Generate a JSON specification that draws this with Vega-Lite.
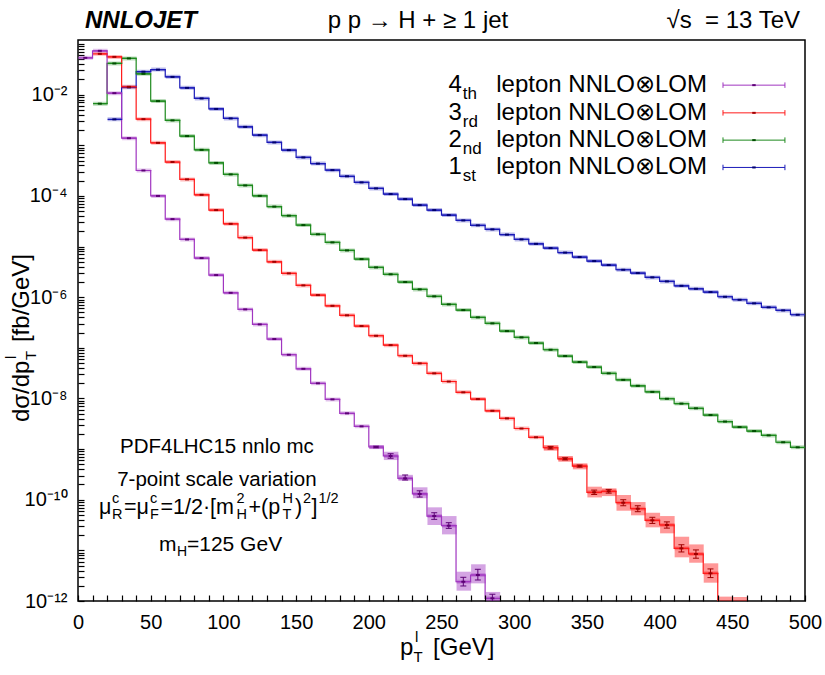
{
  "$schema": "https://vega.github.io/schema/vega-lite/v6.json",
  "width": 727,
  "height": 561,
  "autosize": "none",
  "padding": {"left": 78, "top": 40, "right": 20, "bottom": 74},
  "background": "white",
  "config": {
    "font": "Liberation Sans",
    "view": {"stroke": "black", "strokeWidth": 1.5},
    "axis": {"labelColor": "black", "titleColor": "black", "labelFont": "Liberation Sans", "titleFont": "Liberation Sans", "titleFontWeight": "normal", "domain": false, "grid": false}
  },
  "datasets": {
    "hist": [
      {"s":"1st","c":25,"v":3.25e-3},{"s":"1st","c":35,"v":0.01393},{"s":"1st","c":45,"v":0.0284},{"s":"1st","c":55,"v":0.0312},{"s":"1st","c":65,"v":0.02244},{"s":"1st","c":75,"v":0.01361},{"s":"1st","c":85,"v":8.41e-3},{"s":"1st","c":95,"v":5.22e-3},{"s":"1st","c":105,"v":3.39e-3},{"s":"1st","c":115,"v":2.31e-3},{"s":"1st","c":125,"v":1.585e-3},{"s":"1st","c":135,"v":1.138e-3},{"s":"1st","c":145,"v":8.01e-4},{"s":"1st","c":155,"v":5.75e-4},{"s":"1st","c":165,"v":4.35e-4},{"s":"1st","c":175,"v":3.23e-4},{"s":"1st","c":185,"v":2.44e-4},{"s":"1st","c":195,"v":1.849e-4},{"s":"1st","c":205,"v":1.406e-4},{"s":"1st","c":215,"v":1.087e-4},{"s":"1st","c":225,"v":8.65e-5},{"s":"1st","c":235,"v":6.58e-5},{"s":"1st","c":245,"v":5.25e-5},{"s":"1st","c":255,"v":4.18e-5},{"s":"1st","c":265,"v":3.28e-5},{"s":"1st","c":275,"v":2.62e-5},{"s":"1st","c":285,"v":2.18e-5},{"s":"1st","c":295,"v":1.722e-5},{"s":"1st","c":305,"v":1.384e-5},{"s":"1st","c":315,"v":1.132e-5},{"s":"1st","c":325,"v":9.31e-6},{"s":"1st","c":335,"v":7.60e-6},{"s":"1st","c":345,"v":6.19e-6},{"s":"1st","c":355,"v":5.16e-6},{"s":"1st","c":365,"v":4.31e-6},{"s":"1st","c":375,"v":3.48e-6},{"s":"1st","c":385,"v":2.99e-6},{"s":"1st","c":395,"v":2.46e-6},{"s":"1st","c":405,"v":2.05e-6},{"s":"1st","c":415,"v":1.679e-6},{"s":"1st","c":425,"v":1.466e-6},{"s":"1st","c":435,"v":1.262e-6},{"s":"1st","c":445,"v":1.019e-6},{"s":"1st","c":455,"v":8.89e-7},{"s":"1st","c":465,"v":7.55e-7},{"s":"1st","c":475,"v":6.30e-7},{"s":"1st","c":485,"v":5.48e-7},{"s":"1st","c":495,"v":4.50e-7},
      {"s":"2nd","c":15,"v":6.64e-3},{"s":"2nd","c":25,"v":0.0413},{"s":"2nd","c":35,"v":0.0519},{"s":"2nd","c":45,"v":0.0258},{"s":"2nd","c":55,"v":7.45e-3},{"s":"2nd","c":65,"v":3.10e-3},{"s":"2nd","c":75,"v":1.518e-3},{"s":"2nd","c":85,"v":8.13e-4},{"s":"2nd","c":95,"v":4.49e-4},{"s":"2nd","c":105,"v":2.66e-4},{"s":"2nd","c":115,"v":1.61e-4},{"s":"2nd","c":125,"v":1.005e-4},{"s":"2nd","c":135,"v":6.15e-5},{"s":"2nd","c":145,"v":4.08e-5},{"s":"2nd","c":155,"v":2.65e-5},{"s":"2nd","c":165,"v":1.746e-5},{"s":"2nd","c":175,"v":1.208e-5},{"s":"2nd","c":185,"v":8.39e-6},{"s":"2nd","c":195,"v":5.65e-6},{"s":"2nd","c":205,"v":3.87e-6},{"s":"2nd","c":215,"v":2.83e-6},{"s":"2nd","c":225,"v":1.99e-6},{"s":"2nd","c":235,"v":1.426e-6},{"s":"2nd","c":245,"v":1.038e-6},{"s":"2nd","c":255,"v":7.21e-7},{"s":"2nd","c":265,"v":5.56e-7},{"s":"2nd","c":275,"v":3.99e-7},{"s":"2nd","c":285,"v":3.04e-7},{"s":"2nd","c":295,"v":2.14e-7},{"s":"2nd","c":305,"v":1.607e-7},{"s":"2nd","c":315,"v":1.242e-7},{"s":"2nd","c":325,"v":9.17e-8},{"s":"2nd","c":335,"v":6.87e-8},{"s":"2nd","c":345,"v":5.24e-8},{"s":"2nd","c":355,"v":4.17e-8},{"s":"2nd","c":365,"v":3.13e-8},{"s":"2nd","c":375,"v":2.33e-8},{"s":"2nd","c":385,"v":1.78e-8},{"s":"2nd","c":395,"v":1.349e-8},{"s":"2nd","c":405,"v":9.86e-9},{"s":"2nd","c":415,"v":7.92e-9},{"s":"2nd","c":425,"v":6.38e-9},{"s":"2nd","c":435,"v":4.70e-9},{"s":"2nd","c":445,"v":3.50e-9},{"s":"2nd","c":455,"v":2.72e-9},{"s":"2nd","c":465,"v":2.27e-9},{"s":"2nd","c":475,"v":1.866e-9},{"s":"2nd","c":485,"v":1.364e-9},{"s":"2nd","c":495,"v":1.084e-9},
      {"s":"3rd","c":15,"v":0.0640},{"s":"3rd","c":25,"v":0.0557},{"s":"3rd","c":35,"v":0.01426},{"s":"3rd","c":45,"v":3.28e-3},{"s":"3rd","c":55,"v":1.117e-3},{"s":"3rd","c":65,"v":4.67e-4},{"s":"3rd","c":75,"v":2.12e-4},{"s":"3rd","c":85,"v":1.052e-4},{"s":"3rd","c":95,"v":5.25e-5},{"s":"3rd","c":105,"v":2.81e-5},{"s":"3rd","c":115,"v":1.503e-5},{"s":"3rd","c":125,"v":8.51e-6},{"s":"3rd","c":135,"v":5.00e-6},{"s":"3rd","c":145,"v":2.95e-6},{"s":"3rd","c":155,"v":1.71e-6},{"s":"3rd","c":165,"v":1.10e-6},{"s":"3rd","c":175,"v":6.76e-7},{"s":"3rd","c":185,"v":4.38e-7},{"s":"3rd","c":195,"v":2.69e-7},{"s":"3rd","c":205,"v":1.73e-7},{"s":"3rd","c":215,"v":1.13e-7},{"s":"3rd","c":225,"v":6.97e-8},{"s":"3rd","c":235,"v":4.93e-8},{"s":"3rd","c":245,"v":3.13e-8},{"s":"3rd","c":255,"v":2.16e-8},{"s":"3rd","c":265,"v":1.32e-8},{"s":"3rd","c":275,"v":9.72e-9},{"s":"3rd","c":285,"v":5.71e-9},{"s":"3rd","c":295,"v":4.04e-9},{"s":"3rd","c":305,"v":2.55e-9},{"s":"3rd","c":315,"v":1.71e-9},{"s":"3rd","c":325,"v":1.064e-9},{"s":"3rd","c":335,"v":6.41e-10},{"s":"3rd","c":345,"v":4.62e-10},{"s":"3rd","c":355,"v":1.40e-10},{"s":"3rd","c":365,"v":1.47e-10},{"s":"3rd","c":375,"v":8.73e-11},{"s":"3rd","c":385,"v":6.64e-11},{"s":"3rd","c":395,"v":3.92e-11},{"s":"3rd","c":405,"v":3.17e-11},{"s":"3rd","c":415,"v":1.096e-11},{"s":"3rd","c":425,"v":8.47e-12},{"s":"3rd","c":435,"v":3.52e-12},{"s":"3rd","c":445,"v":6e-13},{"s":"3rd","c":455,"v":6e-13},
      {"s":"4th","c":5,"v":0.0533},{"s":"4th","c":15,"v":0.0733},{"s":"4th","c":25,"v":0.0107},{"s":"4th","c":35,"v":1.38e-3},{"s":"4th","c":45,"v":3.18e-4},{"s":"4th","c":55,"v":1.0e-4},{"s":"4th","c":65,"v":3.48e-5},{"s":"4th","c":75,"v":1.38e-5},{"s":"4th","c":85,"v":5.91e-6},{"s":"4th","c":95,"v":2.73e-6},{"s":"4th","c":105,"v":1.22e-6},{"s":"4th","c":115,"v":5.74e-7},{"s":"4th","c":125,"v":2.90e-7},{"s":"4th","c":135,"v":1.49e-7},{"s":"4th","c":145,"v":7.30e-8},{"s":"4th","c":155,"v":3.85e-8},{"s":"4th","c":165,"v":1.99e-8},{"s":"4th","c":175,"v":9.59e-9},{"s":"4th","c":185,"v":5.08e-9},{"s":"4th","c":195,"v":2.81e-9},{"s":"4th","c":205,"v":1.10e-9},{"s":"4th","c":215,"v":7.30e-10},{"s":"4th","c":225,"v":2.64e-10},{"s":"4th","c":235,"v":1.30e-10},{"s":"4th","c":245,"v":4.76e-11},{"s":"4th","c":255,"v":3.07e-11},{"s":"4th","c":265,"v":2.40e-12},{"s":"4th","c":275,"v":3.26e-12},{"s":"4th","c":285,"v":1.13e-12}
    ],
    "tail": [
      {"s":"3rd","c":325,"bl":9.3e-10,"bh":1.2e-9,"el":1.0e-9,"eh":1.13e-9},
      {"s":"3rd","c":335,"bl":5.62e-10,"bh":7.3e-10,"el":6.1e-10,"eh":6.75e-10},
      {"s":"3rd","c":345,"bl":3.98e-10,"bh":5.24e-10,"el":4.4e-10,"eh":4.85e-10},
      {"s":"3rd","c":355,"bl":1.11e-10,"bh":1.81e-10,"el":1.27e-10,"eh":1.55e-10},
      {"s":"3rd","c":365,"bl":1.18e-10,"bh":1.68e-10,"el":1.35e-10,"eh":1.60e-10},
      {"s":"3rd","c":375,"bl":6.07e-11,"bh":1.24e-10,"el":7.6e-11,"eh":1.0e-10},
      {"s":"3rd","c":385,"bl":4.92e-11,"bh":9.0e-11,"el":5.8e-11,"eh":7.6e-11},
      {"s":"3rd","c":395,"bl":2.85e-11,"bh":5.53e-11,"el":3.4e-11,"eh":4.5e-11},
      {"s":"3rd","c":405,"bl":2.17e-11,"bh":4.76e-11,"el":2.75e-11,"eh":3.65e-11},
      {"s":"3rd","c":415,"bl":7.29e-12,"bh":1.86e-11,"el":9.3e-12,"eh":1.29e-11},
      {"s":"3rd","c":425,"bl":5.70e-12,"bh":1.31e-11,"el":7.0e-12,"eh":1.02e-11},
      {"s":"3rd","c":435,"bl":2.30e-12,"bh":5.55e-12,"el":2.9e-12,"eh":4.3e-12},
      {"s":"3rd","c":445,"bl":3e-13,"bh":1.22e-12,"el":4e-13,"eh":9e-13},
      {"s":"3rd","c":455,"bl":3e-13,"bh":1.2e-12,"el":4e-13,"eh":9e-13},
      {"s":"4th","c":205,"bl":1.0e-9,"bh":1.2e-9,"el":1.06e-9,"eh":1.14e-9},
      {"s":"4th","c":215,"bl":6.08e-10,"bh":8.87e-10,"el":6.6e-10,"eh":8.1e-10},
      {"s":"4th","c":225,"bl":2.4e-10,"bh":3.1e-10,"el":2.45e-10,"eh":3.08e-10},
      {"s":"4th","c":235,"bl":1.07e-10,"bh":1.76e-10,"el":1.13e-10,"eh":1.50e-10},
      {"s":"4th","c":245,"bl":3.17e-11,"bh":7.08e-11,"el":4.1e-11,"eh":5.53e-11},
      {"s":"4th","c":255,"bl":2.07e-11,"bh":4.76e-11,"el":2.72e-11,"eh":3.52e-11},
      {"s":"4th","c":265,"bl":1.60e-12,"bh":3.79e-12,"el":1.98e-12,"eh":2.94e-12},
      {"s":"4th","c":275,"bl":2.23e-12,"bh":5.31e-12,"el":2.60e-12,"eh":4.23e-12},
      {"s":"4th","c":285,"bl":6e-13,"bh":1.51e-12,"el":8e-13,"eh":1.36e-12}
    ]
  },
  "layer": [
    {
      "data": {"name": "tail"},
      "mark": {"type": "rect", "clip": true, "opacity": 0.45},
      "encoding": {
        "x": {"field": "c", "type": "quantitative", "bin": {"step": 10, "extent": [0, 500]}, "scale": {"domain": [0, 500], "nice": false, "zero": false},
          "axis": {"values": [0,10,20,30,40,50,60,70,80,90,100,110,120,130,140,150,160,170,180,190,200,210,220,230,240,250,260,270,280,290,300,310,320,330,340,350,360,370,380,390,400,410,420,430,440,450,460,470,480,490,500],
            "labelExpr": "datum.value % 50 === 0 ? datum.label : ''", "labelFlush": false, "labelOverlap": false, "labelFontSize": 20, "labelPadding": 17,
            "ticks": true, "tickSize": -6, "tickColor": "black", "tickWidth": 1.2, "grid": false,
            "title": null}},
        "y": {"field": "bl", "type": "quantitative", "scale": {"type": "log", "domain": [1e-12, 0.12], "nice": false},
          "axis": {"tickCount": 20, "labelOverlap": false, "labelFontSize": 20, "labelPadding": 17,
            "labelExpr": "(abs(log(datum.value)/LN10 - round(log(datum.value)/LN10)) < 0.001 && round(log(datum.value)/LN10) % 2 == 0) ? '10' + replace(replace(replace(replace(replace(replace(replace('' + round(log(datum.value)/LN10), '-', '⁻'), '0', '⁰'), '1', '¹'), '2', '²'), '4', '⁴'), '6', '⁶'), '8', '⁸') : ''",
            "ticks": true, "tickSize": -6, "tickColor": "black", "tickWidth": 1.2, "grid": false,
            "title": null}},
        "y2": {"field": "bh"},
        "color": {"field": "s", "type": "nominal", "scale": {"domain": ["1st", "2nd", "3rd", "4th"], "range": ["#1a1ab8", "#1e8a1e", "#ff1a1a", "#a035c0"]}, "legend": null}
      }
    },
    {
      "data": {"name": "hist"},
      "mark": {"type": "rect", "clip": true, "filled": false, "strokeWidth": 4, "strokeOpacity": 0.3},
      "encoding": {
        "x": {"field": "c", "type": "quantitative", "bin": {"step": 10, "extent": [0, 500]}},
        "y": {"field": "v", "type": "quantitative", "scale": {"type": "log"}},
        "y2": {"field": "v"},
        "color": {"field": "s", "type": "nominal", "legend": null}
      }
    },
    {
      "data": {"name": "hist"},
      "mark": {"type": "line", "clip": true, "interpolate": "step", "strokeWidth": 1.2},
      "encoding": {
        "x": {"field": "c", "type": "quantitative", "bin": {"step": 10, "extent": [0, 500]}},
        "y": {"field": "v", "type": "quantitative", "scale": {"type": "log"}},
        "color": {"field": "s", "type": "nominal", "legend": null}
      }
    },
    {
      "data": {"name": "hist"},
      "mark": {"type": "rect", "clip": true, "filled": false, "strokeWidth": 1.2},
      "encoding": {
        "x": {"field": "c", "type": "quantitative", "bin": {"step": 10, "extent": [0, 500]}},
        "y": {"field": "v", "type": "quantitative", "scale": {"type": "log"}},
        "y2": {"field": "v"},
        "color": {"field": "s", "type": "nominal", "legend": null}
      }
    },
    {
      "data": {"name": "tail"},
      "mark": {"type": "rule", "clip": true, "strokeWidth": 1},
      "encoding": {
        "x": {"field": "c", "type": "quantitative"},
        "y": {"field": "el", "type": "quantitative", "scale": {"type": "log"}},
        "y2": {"field": "eh"},
        "stroke": {"field": "s", "type": "nominal", "scale": {"domain": ["1st", "2nd", "3rd", "4th"], "range": ["#00006e", "#004d00", "#a00000", "#5c0075"]}, "legend": null}
      }
    },
    {
      "data": {"name": "tail"},
      "mark": {"type": "point", "clip": true, "shape": "M-1,0L1,0", "size": 36, "filled": false, "strokeWidth": 1, "opacity": 1},
      "encoding": {
        "x": {"field": "c", "type": "quantitative"},
        "y": {"field": "el", "type": "quantitative", "scale": {"type": "log"}},
        "stroke": {"field": "s", "type": "nominal", "legend": null}
      }
    },
    {
      "data": {"name": "tail"},
      "mark": {"type": "point", "clip": true, "shape": "M-1,0L1,0", "size": 36, "filled": false, "strokeWidth": 1, "opacity": 1},
      "encoding": {
        "x": {"field": "c", "type": "quantitative"},
        "y": {"field": "eh", "type": "quantitative", "scale": {"type": "log"}},
        "stroke": {"field": "s", "type": "nominal", "legend": null}
      }
    },
    {
      "data": {"name": "hist"},
      "mark": {"type": "point", "clip": true, "shape": "M-1,0L1,0", "size": 16, "filled": false, "strokeWidth": 2, "opacity": 1},
      "encoding": {
        "x": {"field": "c", "type": "quantitative", "bin": {"step": 10, "extent": [0, 500]}},
        "y": {"field": "v", "type": "quantitative", "scale": {"type": "log"}},
        "stroke": {"field": "s", "type": "nominal", "legend": null}
      }
    },
    {
      "data": {"values": [{}]},
      "layer": [
        {"mark": {"type": "text", "font": "Liberation Sans", "fontSize": 24, "fontStyle": "italic", "fontWeight": "bold", "align": "left", "baseline": "middle", "color": "black"},
         "encoding": {"x": {"datum": 4.8, "type": "quantitative"}, "y": {"datum": 0.2826, "type": "quantitative", "scale": {"type": "log"}}, "text": {"value": "NNLOJET"}}},
        {"mark": {"type": "text", "font": "Liberation Sans", "fontSize": 24, "align": "center", "baseline": "middle", "color": "black"},
         "encoding": {"x": {"datum": 233.8, "type": "quantitative"}, "y": {"datum": 0.2826, "type": "quantitative", "scale": {"type": "log"}}, "text": {"value": "p p → H + ≥ 1 jet"}}},
        {"mark": {"type": "text", "font": "Liberation Sans", "fontSize": 24, "align": "right", "baseline": "middle", "color": "black"},
         "encoding": {"x": {"datum": 496.6, "type": "quantitative"}, "y": {"datum": 0.2826, "type": "quantitative", "scale": {"type": "log"}}, "text": {"value": "√s\u00a0 = 13 TeV"}}},
        {"mark": {"type": "text", "font": "Liberation Sans", "fontSize": 20.5, "align": "center", "baseline": "middle", "color": "black"},
         "encoding": {"x": {"datum": 95.5, "type": "quantitative"}, "y": {"datum": 1.111e-9, "type": "quantitative", "scale": {"type": "log"}}, "text": {"value": "PDF4LHC15 nnlo mc"}}},
        {"mark": {"type": "text", "font": "Liberation Sans", "fontSize": 20.5, "align": "center", "baseline": "middle", "color": "black"},
         "encoding": {"x": {"datum": 95.5, "type": "quantitative"}, "y": {"datum": 2.45e-10, "type": "quantitative", "scale": {"type": "log"}}, "text": {"value": "7-point scale variation"}}}
      ]
    },
    {
      "data": {"values": [{}]},
      "encoding": {"x": {"datum": 221.5, "type": "quantitative"}, "y": {"datum": 1.18e-13, "type": "quantitative", "scale": {"type": "log"}}},
      "layer": [
        {"mark": {"type": "text", "fontSize": 24, "align": "left", "baseline": "middle", "dx": 0, "color": "black"}, "encoding": {"text": {"value": "p"}}},
        {"mark": {"type": "text", "fontSize": 15, "align": "left", "baseline": "middle", "dx": 15, "dy": -11, "color": "black"}, "encoding": {"text": {"value": "l"}}},
        {"mark": {"type": "text", "fontSize": 15, "align": "left", "baseline": "middle", "dx": 13.5, "dy": 9, "color": "black"}, "encoding": {"text": {"value": "T"}}},
        {"mark": {"type": "text", "fontSize": 24, "align": "left", "baseline": "middle", "dx": 33, "color": "black"}, "encoding": {"text": {"value": "[GeV]"}}}
      ]
    },
    {
      "data": {"values": [{}]},
      "encoding": {"x": {"datum": -38.5, "type": "quantitative"}, "y": {"datum": 3.42e-9, "type": "quantitative", "scale": {"type": "log"}}},
      "layer": [
        {"mark": {"type": "text", "fontSize": 24, "angle": 270, "align": "left", "baseline": "middle", "dx": 0, "color": "black"}, "encoding": {"text": {"value": "dσ/dp"}}},
        {"mark": {"type": "text", "fontSize": 15, "angle": 270, "align": "left", "baseline": "middle", "dx": 63, "dy": -11, "color": "black"}, "encoding": {"text": {"value": "l"}}},
        {"mark": {"type": "text", "fontSize": 15, "angle": 270, "align": "left", "baseline": "middle", "dx": 62, "dy": 9, "color": "black"}, "encoding": {"text": {"value": "T"}}},
        {"mark": {"type": "text", "fontSize": 24, "angle": 270, "align": "left", "baseline": "middle", "dx": 80, "color": "black"}, "encoding": {"text": {"value": "[fb/GeV]"}}}
      ]
    },
    {
      "data": {"values": [{}]},
      "encoding": {"x": {"datum": 14.44, "type": "quantitative"}, "y": {"datum": 6.86e-11, "type": "quantitative", "scale": {"type": "log"}}},
      "layer": [
        {"mark": {"type": "text", "fontSize": 21.5, "align": "left", "baseline": "middle", "dx": 0, "color": "black"}, "encoding": {"text": {"value": "μ"}}},
        {"mark": {"type": "text", "fontSize": 14.5, "align": "left", "baseline": "middle", "dx": 13, "dy": -9, "color": "black"}, "encoding": {"text": {"value": "c"}}},
        {"mark": {"type": "text", "fontSize": 14.5, "align": "left", "baseline": "middle", "dx": 13, "dy": 7, "color": "black"}, "encoding": {"text": {"value": "R"}}},
        {"mark": {"type": "text", "fontSize": 21.5, "align": "left", "baseline": "middle", "dx": 25, "color": "black"}, "encoding": {"text": {"value": "=μ"}}},
        {"mark": {"type": "text", "fontSize": 14.5, "align": "left", "baseline": "middle", "dx": 51, "dy": -9, "color": "black"}, "encoding": {"text": {"value": "c"}}},
        {"mark": {"type": "text", "fontSize": 14.5, "align": "left", "baseline": "middle", "dx": 51, "dy": 7, "color": "black"}, "encoding": {"text": {"value": "F"}}},
        {"mark": {"type": "text", "fontSize": 21.5, "align": "left", "baseline": "middle", "dx": 61.5, "color": "black"}, "encoding": {"text": {"value": "=1/2·[m"}}},
        {"mark": {"type": "text", "fontSize": 14.5, "align": "left", "baseline": "middle", "dx": 137.5, "dy": -9, "color": "black"}, "encoding": {"text": {"value": "2"}}},
        {"mark": {"type": "text", "fontSize": 14.5, "align": "left", "baseline": "middle", "dx": 137.5, "dy": 7, "color": "black"}, "encoding": {"text": {"value": "H"}}},
        {"mark": {"type": "text", "fontSize": 21.5, "align": "left", "baseline": "middle", "dx": 149.5, "color": "black"}, "encoding": {"text": {"value": "+(p"}}},
        {"mark": {"type": "text", "fontSize": 14.5, "align": "left", "baseline": "middle", "dx": 183.5, "dy": -9, "color": "black"}, "encoding": {"text": {"value": "H"}}},
        {"mark": {"type": "text", "fontSize": 14.5, "align": "left", "baseline": "middle", "dx": 183.5, "dy": 7, "color": "black"}, "encoding": {"text": {"value": "T"}}},
        {"mark": {"type": "text", "fontSize": 21.5, "align": "left", "baseline": "middle", "dx": 196, "color": "black"}, "encoding": {"text": {"value": ")"}}},
        {"mark": {"type": "text", "fontSize": 14.5, "align": "left", "baseline": "middle", "dx": 204, "dy": -9, "color": "black"}, "encoding": {"text": {"value": "2"}}},
        {"mark": {"type": "text", "fontSize": 21.5, "align": "left", "baseline": "middle", "dx": 212.5, "color": "black"}, "encoding": {"text": {"value": "]"}}},
        {"mark": {"type": "text", "fontSize": 14.5, "align": "left", "baseline": "middle", "dx": 219.5, "dy": -9, "color": "black"}, "encoding": {"text": {"value": "1/2"}}}
      ]
    },
    {
      "data": {"values": [{}]},
      "encoding": {"x": {"datum": 55.7, "type": "quantitative"}, "y": {"datum": 1.277e-11, "type": "quantitative", "scale": {"type": "log"}}},
      "layer": [
        {"mark": {"type": "text", "fontSize": 21, "align": "left", "baseline": "middle", "dx": 0, "color": "black"}, "encoding": {"text": {"value": "m"}}},
        {"mark": {"type": "text", "fontSize": 14, "align": "left", "baseline": "middle", "dx": 18, "dy": 7, "color": "black"}, "encoding": {"text": {"value": "H"}}},
        {"mark": {"type": "text", "fontSize": 21, "align": "left", "baseline": "middle", "dx": 28, "color": "black"}, "encoding": {"text": {"value": "=125 GeV"}}}
      ]
    },
    {
      "data": {"values": [{}]},
      "encoding": {"y": {"datum": 0.0154, "type": "quantitative", "scale": {"type": "log"}}},
      "layer": [
        {"mark": {"type": "text", "fontSize": 24, "align": "right", "baseline": "middle", "color": "black"}, "encoding": {"x": {"datum": 264, "type": "quantitative"}, "text": {"value": "4"}}},
        {"mark": {"type": "text", "fontSize": 17, "align": "left", "baseline": "middle", "dx": 1, "dy": 9, "color": "black"}, "encoding": {"x": {"datum": 264, "type": "quantitative"}, "text": {"value": "th"}}},
        {"mark": {"type": "text", "fontSize": 24, "align": "right", "baseline": "middle", "color": "black"}, "encoding": {"x": {"datum": 432.6, "type": "quantitative"}, "text": {"value": "lepton NNLO⊗LOM"}}},
        {"mark": {"type": "rule", "color": "#a035c0", "strokeWidth": 1}, "encoding": {"x": {"datum": 443.6, "type": "quantitative"}, "x2": {"datum": 486.2}}},
        {"mark": {"type": "point", "shape": "M0,-1L0,1", "size": 30, "filled": false, "color": "#a035c0", "strokeWidth": 1, "opacity": 1}, "encoding": {"x": {"datum": 443.6, "type": "quantitative"}}},
        {"mark": {"type": "point", "shape": "M0,-1L0,1", "size": 30, "filled": false, "color": "#a035c0", "strokeWidth": 1, "opacity": 1}, "encoding": {"x": {"datum": 486.2, "type": "quantitative"}}},
        {"mark": {"type": "point", "shape": "M-1,0L1,0", "size": 12, "filled": false, "color": "#5c0075", "strokeWidth": 2, "opacity": 1}, "encoding": {"x": {"datum": 464.9, "type": "quantitative"}}}
      ]
    },
    {
      "data": {"values": [{}]},
      "encoding": {"y": {"datum": 0.00437, "type": "quantitative", "scale": {"type": "log"}}},
      "layer": [
        {"mark": {"type": "text", "fontSize": 24, "align": "right", "baseline": "middle", "color": "black"}, "encoding": {"x": {"datum": 264, "type": "quantitative"}, "text": {"value": "3"}}},
        {"mark": {"type": "text", "fontSize": 17, "align": "left", "baseline": "middle", "dx": 1, "dy": 9, "color": "black"}, "encoding": {"x": {"datum": 264, "type": "quantitative"}, "text": {"value": "rd"}}},
        {"mark": {"type": "text", "fontSize": 24, "align": "right", "baseline": "middle", "color": "black"}, "encoding": {"x": {"datum": 432.6, "type": "quantitative"}, "text": {"value": "lepton NNLO⊗LOM"}}},
        {"mark": {"type": "rule", "color": "#ff1a1a", "strokeWidth": 1}, "encoding": {"x": {"datum": 443.6, "type": "quantitative"}, "x2": {"datum": 486.2}}},
        {"mark": {"type": "point", "shape": "M0,-1L0,1", "size": 30, "filled": false, "color": "#ff1a1a", "strokeWidth": 1, "opacity": 1}, "encoding": {"x": {"datum": 443.6, "type": "quantitative"}}},
        {"mark": {"type": "point", "shape": "M0,-1L0,1", "size": 30, "filled": false, "color": "#ff1a1a", "strokeWidth": 1, "opacity": 1}, "encoding": {"x": {"datum": 486.2, "type": "quantitative"}}},
        {"mark": {"type": "point", "shape": "M-1,0L1,0", "size": 12, "filled": false, "color": "#a00000", "strokeWidth": 2, "opacity": 1}, "encoding": {"x": {"datum": 464.9, "type": "quantitative"}}}
      ]
    },
    {
      "data": {"values": [{}]},
      "encoding": {"y": {"datum": 0.001264, "type": "quantitative", "scale": {"type": "log"}}},
      "layer": [
        {"mark": {"type": "text", "fontSize": 24, "align": "right", "baseline": "middle", "color": "black"}, "encoding": {"x": {"datum": 264, "type": "quantitative"}, "text": {"value": "2"}}},
        {"mark": {"type": "text", "fontSize": 17, "align": "left", "baseline": "middle", "dx": 1, "dy": 9, "color": "black"}, "encoding": {"x": {"datum": 264, "type": "quantitative"}, "text": {"value": "nd"}}},
        {"mark": {"type": "text", "fontSize": 24, "align": "right", "baseline": "middle", "color": "black"}, "encoding": {"x": {"datum": 432.6, "type": "quantitative"}, "text": {"value": "lepton NNLO⊗LOM"}}},
        {"mark": {"type": "rule", "color": "#1e8a1e", "strokeWidth": 1}, "encoding": {"x": {"datum": 443.6, "type": "quantitative"}, "x2": {"datum": 486.2}}},
        {"mark": {"type": "point", "shape": "M0,-1L0,1", "size": 30, "filled": false, "color": "#1e8a1e", "strokeWidth": 1, "opacity": 1}, "encoding": {"x": {"datum": 443.6, "type": "quantitative"}}},
        {"mark": {"type": "point", "shape": "M0,-1L0,1", "size": 30, "filled": false, "color": "#1e8a1e", "strokeWidth": 1, "opacity": 1}, "encoding": {"x": {"datum": 486.2, "type": "quantitative"}}},
        {"mark": {"type": "point", "shape": "M-1,0L1,0", "size": 12, "filled": false, "color": "#004d00", "strokeWidth": 2, "opacity": 1}, "encoding": {"x": {"datum": 464.9, "type": "quantitative"}}}
      ]
    },
    {
      "data": {"values": [{}]},
      "encoding": {"y": {"datum": 3.65e-4, "type": "quantitative", "scale": {"type": "log"}}},
      "layer": [
        {"mark": {"type": "text", "fontSize": 24, "align": "right", "baseline": "middle", "color": "black"}, "encoding": {"x": {"datum": 264, "type": "quantitative"}, "text": {"value": "1"}}},
        {"mark": {"type": "text", "fontSize": 17, "align": "left", "baseline": "middle", "dx": 1, "dy": 9, "color": "black"}, "encoding": {"x": {"datum": 264, "type": "quantitative"}, "text": {"value": "st"}}},
        {"mark": {"type": "text", "fontSize": 24, "align": "right", "baseline": "middle", "color": "black"}, "encoding": {"x": {"datum": 432.6, "type": "quantitative"}, "text": {"value": "lepton NNLO⊗LOM"}}},
        {"mark": {"type": "rule", "color": "#1a1ab8", "strokeWidth": 1}, "encoding": {"x": {"datum": 443.6, "type": "quantitative"}, "x2": {"datum": 486.2}}},
        {"mark": {"type": "point", "shape": "M0,-1L0,1", "size": 30, "filled": false, "color": "#1a1ab8", "strokeWidth": 1, "opacity": 1}, "encoding": {"x": {"datum": 443.6, "type": "quantitative"}}},
        {"mark": {"type": "point", "shape": "M0,-1L0,1", "size": 30, "filled": false, "color": "#1a1ab8", "strokeWidth": 1, "opacity": 1}, "encoding": {"x": {"datum": 486.2, "type": "quantitative"}}},
        {"mark": {"type": "point", "shape": "M-1,0L1,0", "size": 12, "filled": false, "color": "#00006e", "strokeWidth": 2, "opacity": 1}, "encoding": {"x": {"datum": 464.9, "type": "quantitative"}}}
      ]
    }
  ]
}
